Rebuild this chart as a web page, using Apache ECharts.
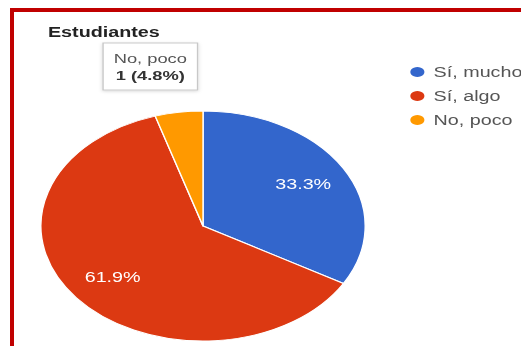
<!DOCTYPE html>
<html>
<head>
<meta charset="utf-8">
<script src="https://cdn.jsdelivr.net/npm/echarts@6/dist/echarts.min.js"></script>
<style>
  html, body { margin: 0; padding: 0; background: #fff; overflow: hidden; }
  #wrap { position: relative; width: 521px; height: 346px; overflow: hidden; background: #fff; }
  #chart { position: absolute; left: 0; top: 0; width: 370px; height: 346px; transform: scaleX(1.41); transform-origin: 0 0; }
  #frame { position: absolute; left: 10px; top: 8px; width: 530px; height: 360px; border-left: 4px solid #c00000; border-top: 4px solid #c00000; pointer-events: none; }
</style>
</head>
<body>
<div id="wrap">
  <div id="chart"></div>
  <div id="frame"></div>
</div>
<script>
const titleText = 'Estudiantes';
const categories = ['Sí, mucho', 'Sí, algo', 'No, poco'];
const values = [7, 13, 1];
const colors = ['#3366cc', '#dc3912', '#ff9900'];
const calloutIndex = 2;

const font = 'Arial, "Liberation Sans", sans-serif';
const chart = echarts.init(document.getElementById('chart'), null, { renderer: 'svg' });

const pieData = categories.map((name, i) => {
  const d = { name: name, value: values[i], itemStyle: { color: colors[i] } };
  if (i === calloutIndex) {
    d.label = {
      show: true,
      position: 'outside',
      formatter: '{n|{b}}\n{v|{c} ({d}%)}',
      backgroundColor: '#fff',
      borderColor: '#c8c8c8',
      borderWidth: 1,
      shadowColor: 'rgba(0,0,0,0.15)',
      shadowBlur: 3,
      shadowOffsetY: 1,
      padding: [6, 7],
      rich: {
        n: { fontSize: 13, color: '#555', fontFamily: font, lineHeight: 17 },
        v: { fontSize: 13, color: '#333', fontWeight: 'bold', fontFamily: font, lineHeight: 17 }
      }
    };
    d.labelLine = { show: false };
  }
  return d;
});

const labelData = categories.map((name, i) => ({
  name: name,
  value: values[i],
  label: { show: i !== calloutIndex }
}));

chart.setOption({
  animation: false,
  backgroundColor: '#fff',
  title: {
    text: titleText,
    left: 29,
    top: 20,
    textStyle: { fontSize: 14, fontWeight: 'bold', color: '#222', fontFamily: font }
  },
  legend: {
    orient: 'vertical',
    left: 284,
    top: 60,
    icon: 'circle',
    itemWidth: 13,
    itemHeight: 12,
    itemGap: 10,
    selectedMode: false,
    textStyle: { fontSize: 14, color: '#555', fontFamily: font },
    data: categories.map((name, i) => ({ name: name, itemStyle: { color: colors[i] } }))
  },
  series: [
    {
      type: 'pie',
      center: [144, 226],
      radius: [0, 115],
      startAngle: 90,
      clockwise: true,
      percentPrecision: 1,
      avoidLabelOverlap: false,
      silent: true,
      itemStyle: { borderColor: '#fff', borderWidth: 1 },
      label: { show: false },
      labelLine: { show: false },
      labelLayout: function (p) {
        if (p.dataIndex !== calloutIndex) return {};
        return { x: p.rect.x - 3, y: p.rect.y - 21, align: 'center', verticalAlign: 'bottom' };
      },
      emphasis: { disabled: true },
      data: pieData,
      z: 2
    },
    {
      type: 'pie',
      center: [144, 226],
      radius: [0, 158],
      startAngle: 90,
      clockwise: true,
      percentPrecision: 1,
      avoidLabelOverlap: false,
      silent: true,
      legendHoverLink: false,
      itemStyle: { color: 'rgba(0,0,0,0)', borderWidth: 0 },
      label: {
        show: true,
        position: 'inside',
        formatter: '{d}%',
        color: '#fff',
        fontSize: 14,
        fontFamily: font
      },
      labelLine: { show: false },
      emphasis: { disabled: true },
      data: labelData,
      z: 3
    }
  ]
});
</script>
</body>
</html>
